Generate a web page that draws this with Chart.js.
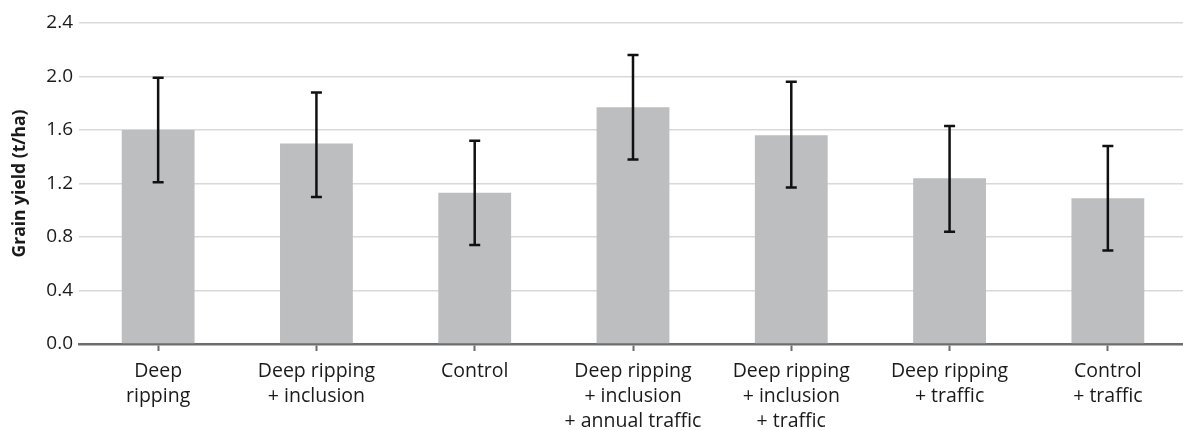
<!DOCTYPE html>
<html>
<head>
<meta charset="utf-8">
<script src="https://cdn.jsdelivr.net/npm/chart.js@4"></script>
<style>
  html, body { margin: 0; padding: 0; background: #fff; overflow: hidden; }
  #wrap { position: relative; width: 1187px; height: 430px; }
</style>
</head>
<body>
<div id="wrap"><canvas id="chart"></canvas></div>
<script>
// Grain yield by treatment, with error bars
const categories = [
  ['Deep', 'ripping'],
  ['Deep ripping', '+ inclusion'],
  ['Control'],
  ['Deep ripping', '+ inclusion', '+ annual traffic'],
  ['Deep ripping', '+ inclusion', '+ traffic'],
  ['Deep ripping', '+ traffic'],
  ['Control', '+ traffic'],
];
const yieldMean = [1.60, 1.50, 1.13, 1.77, 1.56, 1.24, 1.09];
const errUpper = [1.99, 1.88, 1.52, 2.16, 1.96, 1.63, 1.48];
const errLower = [1.21, 1.10, 0.74, 1.38, 1.17, 0.84, 0.70];
const yTicks = [0, 0.4, 0.8, 1.2, 1.6, 2.0, 2.4];

const FONT = '"Open Sans", "Noto Sans", sans-serif';
const TEXT = '#1a1a1a';

const errorBars = {
  id: 'errorBars',
  afterDatasetsDraw(chart) {
    const { ctx, scales: { y } } = chart;
    const meta = chart.getDatasetMeta(0);
    ctx.save();
    ctx.strokeStyle = '#111';
    ctx.lineWidth = 2.5;
    meta.data.forEach((bar, i) => {
      const top = y.getPixelForValue(errUpper[i]);
      const bot = y.getPixelForValue(errLower[i]);
      const cap = 5.5;
      ctx.beginPath();
      ctx.moveTo(bar.x, top); ctx.lineTo(bar.x, bot);
      ctx.moveTo(bar.x - cap, top); ctx.lineTo(bar.x + cap, top);
      ctx.moveTo(bar.x - cap, bot); ctx.lineTo(bar.x + cap, bot);
      ctx.stroke();
    });
    ctx.restore();
  }
};

new Chart(document.getElementById('chart'), {
  type: 'bar',
  data: {
    labels: categories,
    datasets: [{
      data: yieldMean,
      backgroundColor: '#bdbec0',
      borderWidth: 0,
      categoryPercentage: 1,
      barPercentage: 0.46,
    }],
  },
  options: {
    responsive: true,
    maintainAspectRatio: false,
    animation: false,
    layout: { padding: { top: 23, right: 0, bottom: 0, left: 0 } },
    plugins: { legend: { display: false }, tooltip: { enabled: false } },
    scales: {
      x: {
        offset: true,
        grid: {
          offset: false,
          drawOnChartArea: false,
          drawTicks: true,
          tickLength: 7,
          tickColor: '#6d6d6d',
          tickWidth: 2,
        },
        border: { display: true, color: '#6d6d6d', width: 2.5 },
        ticks: {
          color: TEXT,
          font: { family: FONT, size: 19.5, lineHeight: 1.29 },
          padding: 8,
          maxRotation: 0,
          autoSkip: false,
        },
        afterFit(scale) { scale.height = 86; },
      },
      y: {
        min: 0,
        max: 2.4,
        afterBuildTicks(scale) { scale.ticks = yTicks.map(v => ({ value: v })); },
        grid: { color: '#d9d9d9', lineWidth: 1.5, drawTicks: false },
        border: { display: false },
        ticks: {
          color: TEXT,
          font: { family: FONT, size: 19 },
          padding: 6,
          callback: v => v.toFixed(1),
        },
        title: {
          display: true,
          text: 'Grain yield (t/ha)',
          color: TEXT,
          font: { family: FONT, size: 17.5, weight: 'bold' },
          padding: { top: 10, bottom: 4 },
        },
        afterFit(scale) { scale.width = 79; },
      },
    },
  },
  plugins: [errorBars],
});
</script>
</body>
</html>
